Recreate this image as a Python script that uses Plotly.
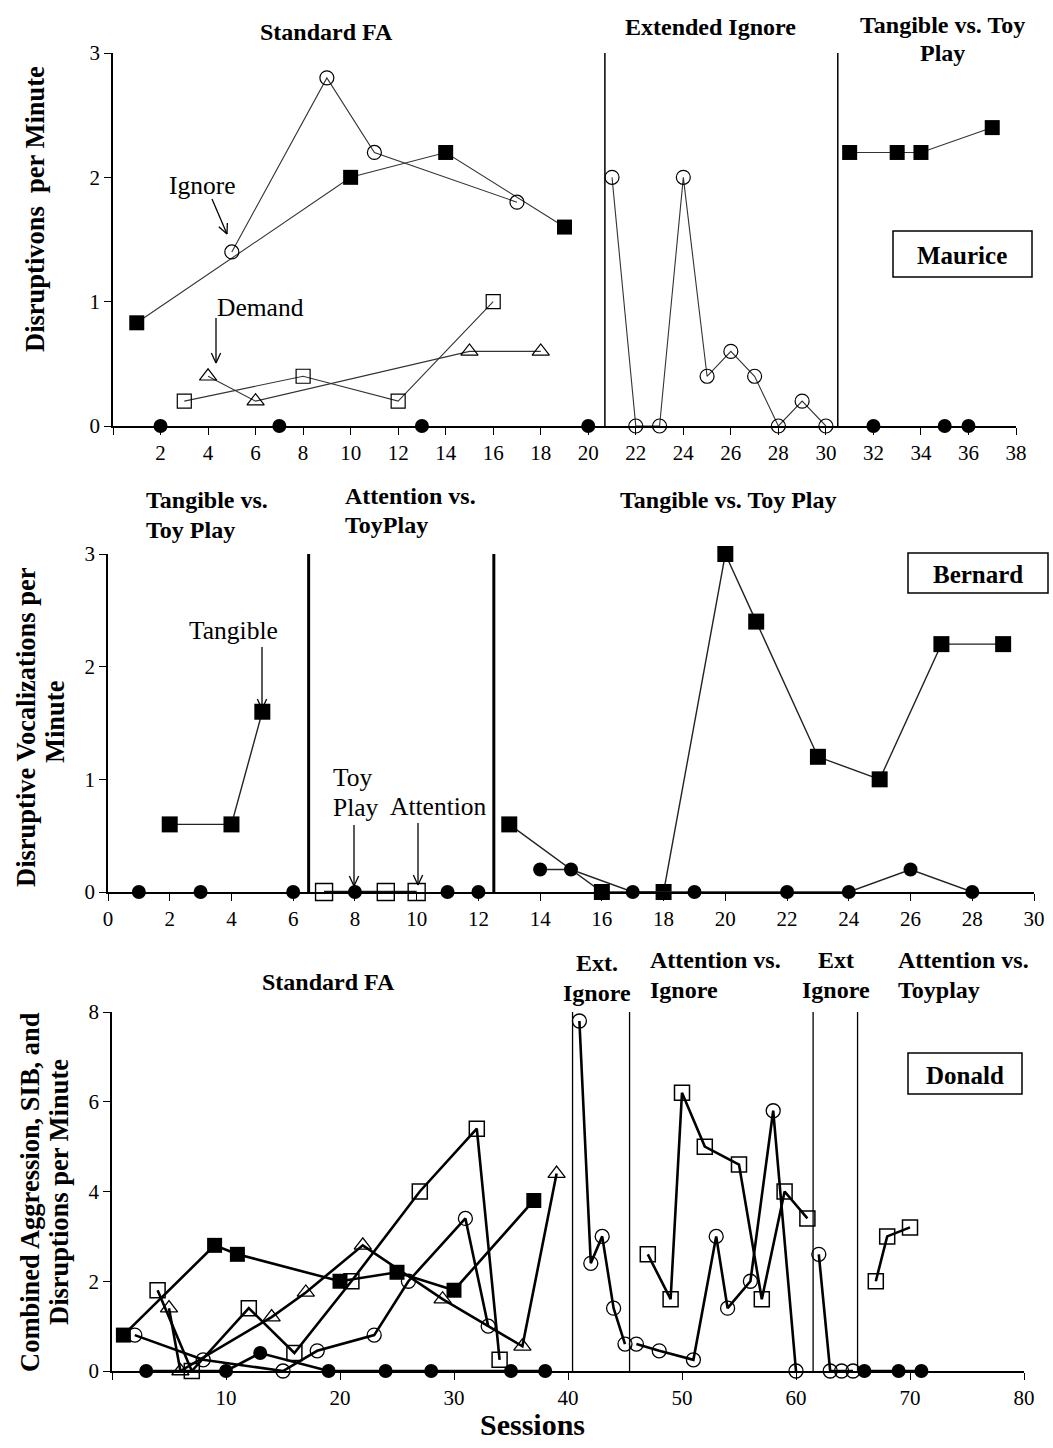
import math
import plotly.graph_objects as go

W, H = 1053, 1448
FONT = "Liberation Serif, Times New Roman, serif"

def px(x):
    return x / W

def py(y):
    return 1 - y / H

# ---------------- Maurice ----------------
m_tan_x = [1, 10, 14, 19]
m_tan_y = [0.83, 2.0, 2.2, 1.6]
m_ign_x = [5, 9, 11, 17]
m_ign_y = [1.4, 2.8, 2.2, 1.8]
m_att_x = [3, 8, 12, 16]
m_att_y = [0.2, 0.4, 0.2, 1.0]
m_dem_x = [4, 6, 15, 18]
m_dem_y = [0.4, 0.2, 0.6, 0.6]
m_toy_x = [2, 7, 13, 20]
m_toy_y = [0, 0, 0, 0]
m_ext_x = [21, 22, 23, 24, 25, 26, 27, 28, 29, 30]
m_ext_y = [2.0, 0, 0, 2.0, 0.4, 0.6, 0.4, 0, 0.2, 0]
m_tan2_x = [31, 33, 34, 37]
m_tan2_y = [2.2, 2.2, 2.2, 2.4]
m_toy2_x = [32, 35, 36]
m_toy2_y = [0, 0, 0]
m_phase = [20.7, 30.5]
m_xticks = list(range(0, 39, 2))
m_yticks = [0, 1, 2, 3]

# ---------------- Bernard ----------------
b_tan1_x = [2, 4, 5]
b_tan1_y = [0.6, 0.6, 1.6]
b_toy1_x = [1, 3, 6]
b_toy1_y = [0, 0, 0]
b_att_x = [7, 9, 10]
b_att_y = [0, 0, 0]
b_toy2_x = [8, 11, 12]
b_toy2_y = [0, 0, 0]
b_tan3_x = [13, 16, 18, 20, 21, 23, 25, 27, 29]
b_tan3_y = [0.6, 0, 0, 3.0, 2.4, 1.2, 1.0, 2.2, 2.2]
b_toy3_x = [14, 15, 17, 19, 22, 24, 26, 28]
b_toy3_y = [0.2, 0.2, 0, 0, 0, 0, 0.2, 0]
b_phase = [6.5, 12.5]
b_xticks = list(range(0, 31, 2))
b_yticks = [0, 1, 2, 3]

# ---------------- Donald ----------------
d_tan_x = [1, 9, 11, 20, 25, 30, 37]
d_tan_y = [0.8, 2.8, 2.6, 2.0, 2.2, 1.8, 3.8]
d_att_x = [4, 7, 12, 16, 21, 27, 32, 34]
d_att_y = [1.8, 0, 1.4, 0.4, 2.0, 4.0, 5.4, 0.25]
d_dem_x = [5, 6, 14, 17, 22, 29, 36, 39]
d_dem_y = [1.4, 0, 1.2, 1.75, 2.8, 1.6, 0.55, 4.4]
d_ign_x = [2, 8, 15, 18, 23, 26, 31, 33]
d_ign_y = [0.8, 0.25, 0, 0.45, 0.8, 2.0, 3.4, 1.0]
d_toy_x = [3, 10, 13, 19, 24, 28, 35, 38]
d_toy_y = [0, 0, 0.4, 0, 0, 0, 0, 0]
d_ext1_x = [41, 42, 43, 44, 45]
d_ext1_y = [7.8, 2.4, 3.0, 1.4, 0.6]
d_ai_ign_x = [46, 48, 51, 53, 54, 56, 58, 60]
d_ai_ign_y = [0.6, 0.45, 0.25, 3.0, 1.4, 2.0, 5.8, 0]
d_ai_att_x = [47, 49, 50, 52, 55, 57, 59, 61]
d_ai_att_y = [2.6, 1.6, 6.2, 5.0, 4.6, 1.6, 4.0, 3.4]
d_ext2_x = [62, 63, 64, 65]
d_ext2_y = [2.6, 0, 0, 0]
d_at_toy_x = [66, 69, 71]
d_at_toy_y = [0, 0, 0]
d_at_att_x = [67, 68, 70]
d_at_att_y = [2.0, 3.0, 3.2]
d_phase = [40.4, 45.4, 61.5, 65.4]
d_xticks = list(range(0, 81, 10))
d_yticks = [0, 2, 4, 6, 8]

fig = go.Figure()

def add(x, y, sym, size, lw, mlw, axis, color="#333", mode="lines+markers"):
    fig.add_trace(go.Scatter(
        x=x, y=y, mode=mode, xaxis="x" + axis, yaxis="y" + axis,
        line=dict(color=color, width=lw),
        marker=dict(symbol=sym, size=size, color="black",
                    line=dict(color="black", width=mlw)),
        cliponaxis=False, showlegend=False, hoverinfo="skip"))

# Maurice traces
A1 = ""
add(m_tan_x, m_tan_y, "square", 15, 1.1, 0, A1)
add(m_ign_x, m_ign_y, "circle-open", 14, 1.1, 1.2, A1)
add(m_att_x, m_att_y, "square-open", 14, 1.1, 1.2, A1)
add(m_dem_x, m_dem_y, "triangle-up-open", 15, 1.1, 1.2, A1)
add(m_toy_x, m_toy_y, "circle", 14, 1.1, 0, A1, mode="markers")
add(m_ext_x, m_ext_y, "circle-open", 14, 1.1, 1.2, A1)
add(m_tan2_x, m_tan2_y, "square", 15, 1.1, 0, A1)
add(m_toy2_x, m_toy2_y, "circle", 14, 1.1, 0, A1, mode="markers")

# Bernard traces
A2 = "2"
add(b_tan1_x, b_tan1_y, "square", 16, 1.4, 0, A2, color="#222")
add(b_toy1_x, b_toy1_y, "circle", 14, 1.4, 0, A2, mode="markers")
add(b_att_x, b_att_y, "square-open", 17, 2.5, 1.4, A2, color="#111")
add(b_toy2_x, b_toy2_y, "circle", 14, 1.4, 0, A2, mode="markers")
add(b_tan3_x, b_tan3_y, "square", 16, 1.4, 0, A2, color="#222")
add(b_toy3_x, b_toy3_y, "circle", 14, 1.4, 0, A2, color="#222")

# Donald traces
A3 = "3"
DL = 2.6
add(d_tan_x, d_tan_y, "square", 15, DL, 0, A3, color="black")
add(d_att_x, d_att_y, "square-open", 15, DL, 1.5, A3, color="black")
add(d_dem_x, d_dem_y, "triangle-up-open", 15, DL, 1.3, A3, color="black")
add(d_ign_x, d_ign_y, "circle-open", 14, DL, 1.3, A3, color="black")
add(d_toy_x, d_toy_y, "circle", 14, DL, 0, A3, color="black")
add(d_ext1_x, d_ext1_y, "circle-open", 14, DL, 1.3, A3, color="black")
add(d_ai_ign_x, d_ai_ign_y, "circle-open", 14, DL, 1.3, A3, color="black")
add(d_ai_att_x, d_ai_att_y, "square-open", 15, DL, 1.5, A3, color="black")
add(d_ext2_x, d_ext2_y, "circle-open", 14, DL, 1.3, A3, color="black")
add(d_at_toy_x, d_at_toy_y, "circle", 14, DL, 0, A3, color="black")
add(d_at_att_x, d_at_att_y, "square-open", 15, DL, 1.5, A3, color="black")

tickfont = dict(family=FONT, size=21, color="black")

def xax(dom, rng, ticks, labels, anchor):
    return dict(domain=dom, range=rng, tickmode="array", tickvals=ticks, ticktext=labels,
                ticks="outside", ticklen=7, tickwidth=1.3, tickcolor="black",
                showline=True, linecolor="black", linewidth=1.5, showgrid=False,
                zeroline=False, tickfont=tickfont, anchor=anchor, fixedrange=True)

def yax(dom, rng, ticks, anchor):
    return dict(domain=dom, range=rng, tickmode="array", tickvals=ticks,
                ticktext=[str(t) for t in ticks],
                ticks="outside", ticklen=7, tickwidth=1.3, tickcolor="black",
                showline=True, linecolor="black", linewidth=1.5, showgrid=False,
                zeroline=False, tickfont=tickfont, anchor=anchor, fixedrange=True)

fig.update_layout(
    width=W, height=H, margin=dict(l=0, r=0, t=0, b=0, autoexpand=False),
    paper_bgcolor="white", plot_bgcolor="white",
    xaxis=xax([px(113), px(1016)], [0, 38], m_xticks, [""] + [str(t) for t in m_xticks[1:]], "y"),
    yaxis=yax([py(426), py(53)], [0, 3], m_yticks, "x"),
    xaxis2=xax([px(108), px(1034)], [0, 30], b_xticks, [str(t) for t in b_xticks], "y2"),
    yaxis2=yax([py(892), py(554)], [0, 3], b_yticks, "x2"),
    xaxis3=xax([px(112), px(1024)], [0, 80], d_xticks, [""] + [str(t) for t in d_xticks[1:]], "y3"),
    yaxis3=yax([py(1371), py(1012)], [0, 8], d_yticks, "x3"),
)

shapes = []
for v in m_phase:
    shapes.append(dict(type="line", xref="x", yref="y domain", x0=v, x1=v, y0=0, y1=1,
                       line=dict(color="black", width=1.5)))
for v in b_phase:
    shapes.append(dict(type="line", xref="x2", yref="y2 domain", x0=v, x1=v, y0=0, y1=1,
                       line=dict(color="black", width=3)))
for v in d_phase:
    shapes.append(dict(type="line", xref="x3", yref="y3 domain", x0=v, x1=v, y0=0, y1=1,
                       line=dict(color="black", width=1.3)))

for (x0, y0, x1, y1) in [(893, 231, 1032, 277), (908, 553, 1048, 593), (908, 1053, 1022, 1094)]:
    shapes.append(dict(type="rect", xref="paper", yref="paper",
                       x0=px(x0), x1=px(x1), y0=py(y1), y1=py(y0),
                       line=dict(color="black", width=1.5), fillcolor="rgba(0,0,0,0)"))

def arrow(x0, y0, x1, y1, hl=11, ang=25):
    shapes.append(dict(type="line", xref="paper", yref="paper",
                       x0=px(x0), y0=py(y0), x1=px(x1), y1=py(y1),
                       line=dict(color="black", width=1.3)))
    th = math.atan2(y1 - y0, x1 - x0)
    for s in (1, -1):
        a = th + math.pi - s * math.radians(ang)
        shapes.append(dict(type="line", xref="paper", yref="paper",
                           x0=px(x1), y0=py(y1),
                           x1=px(x1 + hl * math.cos(a)), y1=py(y1 + hl * math.sin(a)),
                           line=dict(color="black", width=1.3)))

arrow(212, 199, 227, 234)
arrow(216, 318, 216, 363)
arrow(262, 647, 262, 709)
arrow(354, 825, 354, 886)
arrow(418, 823, 418, 885)

fig.update_layout(shapes=shapes)

ann = []

def text(x, y, t, size=24, bold=True, xanchor="center", align="center", angle=0):
    s = "<b>" + t + "</b>" if bold else t
    ann.append(dict(x=px(x), y=py(y), xref="paper", yref="paper", text=s, showarrow=False,
                    xanchor=xanchor, yanchor="middle", align=align, textangle=angle,
                    font=dict(family=FONT, size=size, color="black")))

# section titles
text(326, 32, "Standard FA")
text(710, 27, "Extended Ignore")
text(942, 25, "Tangible vs. Toy")
text(942, 53, "Play")
text(144, 500, "Tangible vs.", xanchor="left", align="left")
text(144, 530, "Toy Play", xanchor="left", align="left")
text(343, 496, "Attention vs.", xanchor="left", align="left")
text(343, 525, "ToyPlay", xanchor="left", align="left")
text(728, 500, "Tangible vs. Toy Play")
text(328, 982, "Standard FA")
text(597, 963, "Ext.")
text(597, 993, "Ignore")
text(648, 960, "Attention vs.", xanchor="left", align="left")
text(648, 990, "Ignore", xanchor="left", align="left")
text(836, 960, "Ext")
text(836, 990, "Ignore")
text(896, 960, "Attention vs.", xanchor="left", align="left")
text(896, 990, "Toyplay", xanchor="left", align="left")

# name boxes text
text(962, 255, "Maurice", size=25)
text(978, 574, "Bernard", size=25)
text(965, 1075, "Donald", size=25)

# condition labels
text(202, 186, "Ignore", size=25.5, bold=False)
text(260, 307, "Demand", size=25.5, bold=False)
text(233, 631, "Tangible", size=25.5, bold=False)
text(331, 777, "Toy", size=25.5, bold=False, xanchor="left", align="left")
text(331, 807, "Play", size=25.5, bold=False, xanchor="left", align="left")
text(438, 806, "Attention", size=25.5, bold=False)

# axis titles
text(35, 209, "Disruptivons  per Minute", size=26.5, angle=-90)
text(26, 727, "Disruptive Vocalizations per", size=26.5, angle=-90)
text(55, 722, "Minute", size=26.5, angle=-90)
text(30, 1192, "Combined Aggression, SIB, and", size=26.5, angle=-90)
text(59, 1192, "Disruptions per Minute", size=26.5, angle=-90)
text(532, 1424, "Sessions", size=30)

fig.update_layout(annotations=ann)

post = ("document.documentElement.style.margin='0';document.body.style.margin='0';"
        "document.body.style.padding='0';document.documentElement.style.overflow='hidden';"
        "var gd=document.getElementById('{plot_id}');gd.style.position='absolute';"
        "gd.style.left='0px';gd.style.top='0px';")

fig.write_html("out.html", post_script=post, config={"displayModeBar": False})
